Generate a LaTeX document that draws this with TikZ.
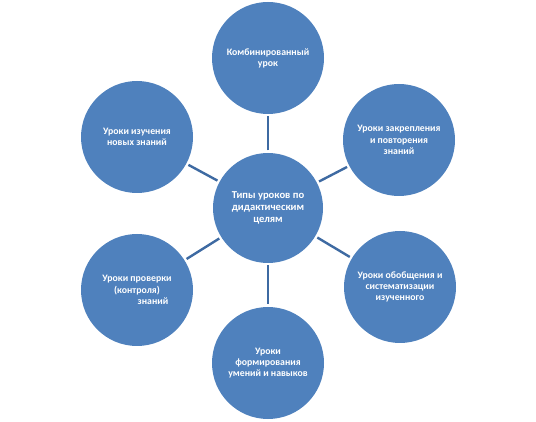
\documentclass[tikz,border=0pt]{standalone}
\usepackage{fontspec}
\setmainfont{Carlito}
\usepackage{tikz}
\definecolor{circblue}{RGB}{79,129,189}
\definecolor{linkblue}{RGB}{62,106,162}

\begin{document}
\begin{tikzpicture}[
    x=1pt, y=-1pt,
    circ/.style={circle, fill=circblue, inner sep=0pt, outer sep=0pt, minimum size=112pt, align=center, text=white, font=\bfseries\fontsize{9.8}{11.2}\selectfont},
    hub/.style={circ, minimum size=110pt, font=\bfseries\fontsize{10.6}{12}\selectfont},
    link/.style={draw=linkblue, line width=2.4pt, shorten >=2.5pt, shorten <=2.5pt}
  ]
    \useasboundingbox (0,0) rectangle (536,422);
    \node[hub] (types) at (268,208) {Типы уроков по\\дидактическим\\целям};
    \node[circ] (comb) at (268,58) {Комбинированный\\урок};
    \node[circ] (fix) at (399,140) {Уроки закрепления\\и повторения\\знаний};
    \node[circ] (gen) at (400,287) {Уроки обобщения и\\систематизации\\изученного};
    \node[circ] (skill) at (268,363) {Уроки\\формирования\\умений и навыков};
    \node[circ] (check) at (137,290) {Уроки проверки\\(контроля)\\\hspace*{32pt}знаний};
    \node[circ] (new) at (137,137) {Уроки изучения\\новых знаний};
    \draw[link] (types) -- (comb);
    \draw[link] (types) -- (fix);
    \draw[link] (types) -- (gen);
    \draw[link] (types) -- (skill);
    \draw[link] (types) -- (check);
    \draw[link] (types) -- (new);
  \end{tikzpicture}
\end{document}
